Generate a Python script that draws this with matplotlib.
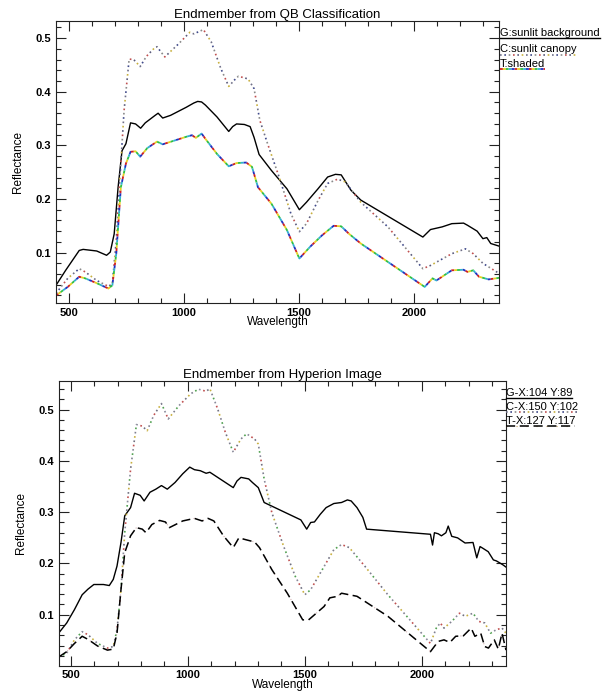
import matplotlib
matplotlib.use("Agg")
import matplotlib.pyplot as plt
from matplotlib.lines import Line2D
from matplotlib.ticker import MultipleLocator

plt.rcParams['font.family'] = ['Liberation Sans', 'DejaVu Sans']

# ---- data: QB classification (top panel) ----
qb_g_wl = [444, 486, 545, 562, 621, 664, 680, 697, 714, 731, 748, 768, 790, 812, 832, 875, 888, 908, 942,
           1010, 1043, 1060, 1077, 1094, 1144, 1195, 1212, 1229, 1263, 1288, 1305, 1327, 1381, 1448, 1502,
           1533, 1583, 1625, 1659, 1684, 1727, 1769, 2039, 2072, 2123, 2165, 2216, 2233, 2275, 2300, 2317,
           2334, 2371]
qb_g = [0.039, 0.067, 0.104, 0.106, 0.103, 0.095, 0.101, 0.135, 0.222, 0.290, 0.303, 0.342, 0.340, 0.332,
        0.342, 0.356, 0.360, 0.351, 0.356, 0.371, 0.379, 0.382, 0.381, 0.375, 0.353, 0.326, 0.335, 0.340,
        0.339, 0.335, 0.315, 0.283, 0.253, 0.219, 0.180, 0.194, 0.219, 0.241, 0.246, 0.245, 0.216, 0.198,
        0.129, 0.143, 0.148, 0.154, 0.155, 0.151, 0.140, 0.126, 0.128, 0.117, 0.112]

qb_c_wl = [444, 495, 545, 571, 621, 672, 689, 706, 723, 740, 762, 782, 810, 837, 875, 883, 917, 976, 1026,
           1043, 1085, 1119, 1161, 1195, 1220, 1237, 1279, 1305, 1330, 1364, 1414, 1465, 1502, 1533, 1583,
           1625, 1668, 1701, 1769, 1887, 2039, 2072, 2165, 2224, 2258, 2300, 2371]
qb_c = [0.024, 0.052, 0.070, 0.064, 0.048, 0.037, 0.042, 0.123, 0.247, 0.365, 0.461, 0.460, 0.447, 0.466,
        0.483, 0.484, 0.465, 0.489, 0.511, 0.508, 0.516, 0.493, 0.443, 0.410, 0.422, 0.429, 0.424, 0.406,
        0.347, 0.303, 0.241, 0.173, 0.139, 0.154, 0.197, 0.229, 0.237, 0.232, 0.194, 0.148, 0.070, 0.076,
        0.098, 0.107, 0.098, 0.080, 0.061]

qb_t_wl = [444, 495, 545, 571, 621, 672, 689, 706, 726, 748, 768, 790, 810, 841, 883, 908, 1010, 1035,
           1052, 1077, 1094, 1144, 1195, 1229, 1271, 1296, 1322, 1381, 1448, 1502, 1549, 1600, 1651, 1684,
           1718, 1769, 2047, 2081, 2098, 2140, 2165, 2216, 2233, 2258, 2283, 2325, 2371]
qb_t = [0.020, 0.036, 0.055, 0.052, 0.043, 0.033, 0.039, 0.098, 0.222, 0.266, 0.288, 0.289, 0.279, 0.295,
        0.307, 0.302, 0.316, 0.319, 0.314, 0.322, 0.312, 0.284, 0.261, 0.267, 0.268, 0.260, 0.222, 0.191,
        0.142, 0.089, 0.111, 0.132, 0.150, 0.149, 0.135, 0.117, 0.036, 0.052, 0.048, 0.060, 0.067, 0.068,
        0.064, 0.067, 0.055, 0.050, 0.053]

# ---- data: Hyperion image (bottom panel) ----
hy_g_wl = [449, 482, 515, 548, 573, 598, 639, 664, 681, 697, 714, 730, 755, 772, 796, 813, 838, 863, 887,
           912, 945, 978, 1008, 1028, 1053, 1078, 1094, 1194, 1210, 1227, 1260, 1276, 1301, 1326, 1483,
           1508, 1525, 1541, 1566, 1591, 1624, 1657, 1682, 1698, 1723, 1748, 1764, 2037, 2046, 2054, 2070,
           2084, 2103, 2113, 2128, 2153, 2185, 2219, 2235, 2249, 2260, 2284, 2306, 2319, 2334, 2348, 2360]
hy_g = [0.065, 0.084, 0.110, 0.139, 0.150, 0.159, 0.159, 0.157, 0.169, 0.195, 0.241, 0.293, 0.309, 0.337,
        0.333, 0.322, 0.339, 0.345, 0.352, 0.345, 0.358, 0.375, 0.388, 0.383, 0.381, 0.376, 0.378, 0.348,
        0.361, 0.368, 0.365, 0.358, 0.348, 0.319, 0.285, 0.267, 0.280, 0.281, 0.296, 0.309, 0.317, 0.319,
        0.324, 0.322, 0.309, 0.290, 0.267, 0.257, 0.236, 0.260, 0.258, 0.254, 0.260, 0.273, 0.253, 0.250,
        0.240, 0.241, 0.211, 0.233, 0.230, 0.223, 0.207, 0.205, 0.201, 0.197, 0.193]

hy_c_wl = [449, 482, 515, 548, 573, 614, 656, 681, 697, 714, 730, 755, 780, 805, 826, 854, 887, 916, 962,
           1012, 1045, 1078, 1094, 1127, 1160, 1194, 1227, 1251, 1285, 1301, 1326, 1359, 1409, 1459, 1500,
           1525, 1558, 1591, 1624, 1657, 1690, 1756, 1855, 1955, 2037, 2062, 2079, 2095, 2128, 2161, 2186,
           2219, 2244, 2269, 2294, 2319, 2343, 2360]
hy_c = [0.018, 0.025, 0.051, 0.067, 0.061, 0.044, 0.035, 0.038, 0.071, 0.149, 0.260, 0.384, 0.471, 0.468,
        0.459, 0.489, 0.512, 0.482, 0.508, 0.531, 0.540, 0.536, 0.541, 0.502, 0.456, 0.417, 0.443, 0.453,
        0.443, 0.433, 0.365, 0.299, 0.234, 0.175, 0.139, 0.149, 0.175, 0.201, 0.227, 0.237, 0.231, 0.195,
        0.139, 0.087, 0.044, 0.074, 0.084, 0.074, 0.087, 0.103, 0.097, 0.103, 0.087, 0.084, 0.064, 0.071,
        0.074, 0.064]

hy_t_wl = [449, 482, 515, 548, 573, 614, 656, 681, 697, 714, 730, 755, 780, 805, 821, 846, 879, 904, 921,
           978, 1028, 1061, 1086, 1111, 1152, 1194, 1218, 1251, 1285, 1306, 1359, 1425, 1491, 1516, 1549,
           1582, 1607, 1640, 1657, 1690, 1723, 1855, 2037, 2070, 2095, 2120, 2145, 2178, 2211, 2227, 2252,
           2269, 2285, 2310, 2327, 2343, 2360]
hy_t = [0.018, 0.028, 0.044, 0.058, 0.052, 0.039, 0.031, 0.033, 0.064, 0.149, 0.221, 0.254, 0.270, 0.267,
        0.260, 0.276, 0.284, 0.281, 0.270, 0.283, 0.288, 0.283, 0.288, 0.283, 0.254, 0.231, 0.250, 0.246,
        0.242, 0.231, 0.188, 0.142, 0.090, 0.090, 0.103, 0.116, 0.133, 0.136, 0.142, 0.139, 0.136, 0.097,
        0.028, 0.048, 0.051, 0.046, 0.058, 0.059, 0.074, 0.058, 0.064, 0.038, 0.035, 0.051, 0.033, 0.064,
        0.031]

qb_labels = ['G:sunlit background', 'C:sunlit canopy', 'T:shaded']
hy_labels = ['G-X:104 Y:89', 'C-X:150 Y:102', 'T-X:127 Y:117']

W, H = 605, 696
fig = plt.figure(figsize=(W / 100, H / 100), dpi=100)

RAINBOW = ['#d02020', '#e8d020', '#30c040', '#30b0d0', '#2030c0']
DOTCOL_QB = ['#707088', '#404a8a', '#8a8a8a', '#c05050', '#5a5a7a', '#c8b040']
DOTCOL_HY = ['#808090', '#50a050', '#8a8a9a', '#c05050', '#707080', '#c8b040']


def multi(draw, x, y, colors, on, off, lw=1.0, **kw):
    # several colours sharing one dash pattern, shifted so they alternate
    n = len(colors)
    per = (on + off) * n
    for i, c in enumerate(colors):
        draw(x, y, color=c, lw=lw, linestyle=((per - i * (on + off)) % per, (on, per - on)),
             solid_capstyle='butt', dash_capstyle='butt', **kw)


def style_axes(ax, xlim, ylim, title):
    ax.set_xlim(*xlim)
    ax.set_ylim(*ylim)
    ax.xaxis.set_major_locator(MultipleLocator(500))
    ax.xaxis.set_minor_locator(MultipleLocator(100))
    ax.yaxis.set_major_locator(MultipleLocator(0.1))
    ax.yaxis.set_minor_locator(MultipleLocator(0.02))
    ax.tick_params(which='both', direction='in', top=True, right=True, width=0.8, color='#222222')
    ax.tick_params(which='major', length=7, pad=3.5, labelsize=8)
    ax.tick_params(which='minor', length=3.5)
    for lab in ax.get_xticklabels() + ax.get_yticklabels():
        lab.set_fontweight('bold')
    for s in ax.spines.values():
        s.set_linewidth(0.8)
        s.set_color('#222222')
    ax.set_title(title, fontsize=9.5, pad=1.5)
    ax.set_xlabel('Wavelength', fontsize=8.5, labelpad=-1)
    ax.set_ylabel('Reflectance', fontsize=8.5, labelpad=8)


def fx(px):
    return px / W


def fy(py):
    return 1 - py / H


# ---- top panel ----
ax1 = fig.add_axes([fx(56), fy(303), fx(499 - 56), (303 - 21) / H])
ax1.plot(qb_g_wl, qb_g, color='black', lw=1.0)
multi(ax1.plot, qb_c_wl, qb_c, DOTCOL_QB, 1, 1.6, lw=1.2)
multi(ax1.plot, qb_t_wl, qb_t, RAINBOW, 1.6, 0, lw=1.3)
style_axes(ax1, (444, 2370), (0.006, 0.532), 'Endmember from QB Classification')

# ---- bottom panel ----
ax2 = fig.add_axes([fx(59), fy(665.5), fx(506 - 59), (665.5 - 381) / H])
ax2.plot(hy_g_wl, hy_g, color='black', lw=1.0)
multi(ax2.plot, hy_c_wl, hy_c, DOTCOL_HY, 1, 1.6, lw=1.2)
ax2.plot(hy_t_wl, hy_t, color='#c8a0a0', lw=0.8, linestyle=(0, (1, 8)), alpha=0.8)
ax2.plot(hy_t_wl, hy_t, color='black', lw=1.1, linestyle=(0, (6, 3)))
style_axes(ax2, (449, 2360), (0.001, 0.556), 'Endmember from Hyperion Image')

# ---- legends to the right of each panel ----
fig.canvas.draw()
rend = fig.canvas.get_renderer()
inv = fig.transFigure.inverted()


def fig_line(x, y, **k):
    fig.add_artist(Line2D(x, y, transform=fig.transFigure, **k))


def legend(x0, ys, labels, kinds):
    for yy, lab, kind in zip(ys, labels, kinds):
        t = fig.text(fx(x0), fy(yy), lab, fontsize=8, ha='left', va='baseline')
        bb = t.get_window_extent(rend).transformed(inv)
        lx = [bb.x0, bb.x1]
        ly = [fy(yy + 2)] * 2
        if kind == 'solid':
            fig_line(lx, ly, color='black', lw=1.0)
        elif kind == 'dot':
            multi(fig_line, lx, ly, DOTCOL_QB, 1, 1.6, lw=1.2)
        elif kind == 'rainbow':
            multi(fig_line, lx, ly, RAINBOW, 1.6, 0, lw=1.3)
        elif kind == 'dash':
            fig_line(lx, ly, color='#c8a060', lw=0.8, linestyle=(0, (1, 8)))
            fig_line(lx, ly, color='black', lw=1.1, linestyle=(0, (6, 3)))


legend(500, [36, 52.5, 67], qb_labels, ['solid', 'dot', 'rainbow'])
legend(506, [396, 410, 424], hy_labels, ['solid', 'dot', 'dash'])

fig.savefig('out.png', dpi=100)
